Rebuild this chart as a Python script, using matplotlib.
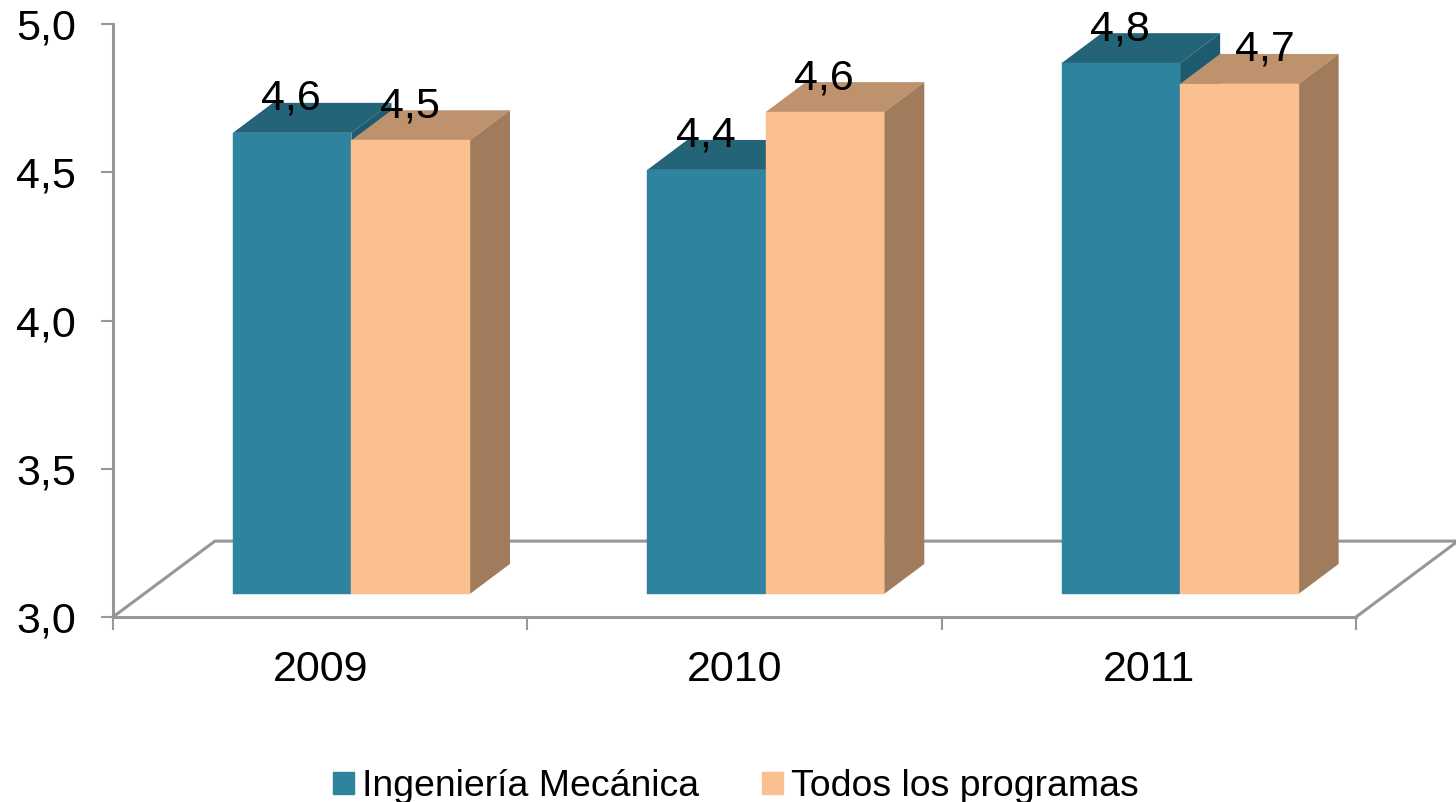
import matplotlib
matplotlib.use("Agg")
import matplotlib.pyplot as plt
from matplotlib.patches import Patch

plt.rcParams["font.family"] = ["Liberation Sans", "DejaVu Sans"]

years = ["2009", "2010", "2011"]
mecanica = [4.555, 4.43, 4.79]
todos = [4.53, 4.625, 4.72]
mecanica_labels = ["4,6", "4,4", "4,8"]
todos_labels = ["4,5", "4,6", "4,7"]
y_ticks = [3.0, 3.5, 4.0, 4.5, 5.0]
y_tick_labels = ["3,0", "3,5", "4,0", "4,5", "5,0"]

GREY = "#979797"
TEAL = ("#2E839E", "#246478", "#1F5B6F")
PEACH = ("#FBC08F", "#BE926C", "#A07C5C")

W, H = 1456, 802
fig = plt.figure(figsize=(W / 100, H / 100), dpi=100)
ax = fig.add_axes([113 / W, 1 - 617 / H, (1356 - 113) / W, (617 - 24) / H])
ax.set_xlim(0, 3)
ax.set_ylim(3, 5)

# the 3d look: bars stand on a floor a bit in front of the axis line
base = 3.078
bar_w = 0.286
bar_dx, bar_dy = 0.0966, 0.101
floor_dx, floor_dy = 0.246, 0.256


def box(x, top, colors, zorder):
    t = base + top - 3
    ax.fill([x, x + bar_dx, x + bar_w + bar_dx, x + bar_w],
            [t, t + bar_dy, t + bar_dy, t], color=colors[1], lw=0, zorder=zorder, clip_on=False)
    ax.fill([x + bar_w, x + bar_w + bar_dx, x + bar_w + bar_dx, x + bar_w],
            [t, t + bar_dy, base + bar_dy, base], color=colors[2], lw=0, zorder=zorder)
    ax.bar(x, top - 3, bottom=base, width=bar_w, align="edge", color=colors[0],
           edgecolor=colors[0], linewidth=0.3, zorder=zorder)


# floor outline, goes past the right edge of the axis
ax.plot([0, floor_dx, 3 + floor_dx, 3], [3, 3 + floor_dy, 3 + floor_dy, 3],
        color=GREY, lw=2.2, zorder=1, clip_on=False)

for i, year in enumerate(years):
    left = i + 0.2895
    box(left, mecanica[i], TEAL, 2 + i)
    box(left + bar_w, todos[i], PEACH, 2.5 + i)
    ax.annotate(mecanica_labels[i], (left + bar_w / 2, base + mecanica[i] - 3), xytext=(-1, 34),
                textcoords="offset pixels", ha="center", va="center", fontsize=31, zorder=10)
    # last label is moved to the right in the original
    shift = 27 if i == 2 else 0
    ax.annotate(todos_labels[i], (left + 1.5 * bar_w, base + todos[i] - 3), xytext=(shift - 1, 34),
                textcoords="offset pixels", ha="center", va="center", fontsize=31, zorder=10)

for side in ["top", "right"]:
    ax.spines[side].set_visible(False)
for side in ["left", "bottom"]:
    ax.spines[side].set_color(GREY)
    ax.spines[side].set_linewidth(2.2)

ax.set_yticks(y_ticks, y_tick_labels)
ax.set_xticks([0, 1, 2, 3], [])
ax.set_xticks([0.5, 1.5, 2.5], years, minor=True)
ax.tick_params(axis="y", length=9, width=1.5, color=GREY, labelsize=31, pad=17.5)
ax.tick_params(axis="x", which="major", length=9, width=1.5, color=GREY)
ax.tick_params(axis="x", which="minor", length=0, labelsize=31, pad=24)

handles = [Patch(color=TEAL[0], label="Ingeniería Mecánica"),
           Patch(color=PEACH[0], label="Todos los programas")]
fig.legend(handles=handles, loc="center", bbox_to_anchor=(736 / W, 1 - 787 / H), ncol=2,
           frameon=False, fontsize=26.9, handlelength=0.54, handleheight=0.54,
           handletextpad=0.22, columnspacing=1.7, borderpad=0)

fig.savefig("out.png", dpi=100)
